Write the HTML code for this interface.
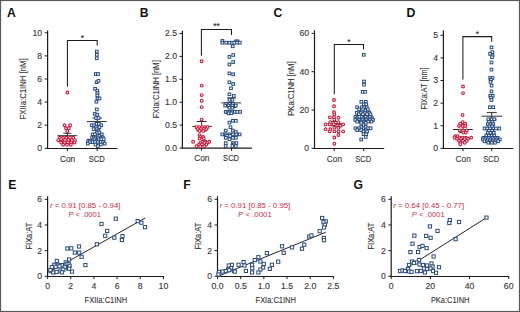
<!DOCTYPE html>
<html><head><meta charset="utf-8"><style>
html,body{margin:0;padding:0;background:#fff;}
body{width:520px;height:312px;overflow:hidden;}
svg{display:block;font-family:"Liberation Sans", sans-serif;}
</style></head><body>
<svg width="520" height="312" viewBox="0 0 520 312">
<rect x="0" y="0" width="520" height="312" fill="#fff"/>
<text x="7" y="16.6" font-size="12.2" text-anchor="start" fill="#111" font-weight="bold">A</text>
<line x1="47.6" y1="30.5" x2="47.6" y2="148.9" stroke="#1c1c1c" stroke-width="1.2"/>
<line x1="44.7" y1="148.3" x2="47.6" y2="148.3" stroke="#1c1c1c" stroke-width="1.0"/>
<text x="42.2" y="151.2" font-size="8.7" text-anchor="end" fill="#363636" stroke="#363636" stroke-width="0.12">0</text>
<line x1="44.7" y1="125.2" x2="47.6" y2="125.2" stroke="#1c1c1c" stroke-width="1.0"/>
<text x="42.2" y="128.1" font-size="8.7" text-anchor="end" fill="#363636" stroke="#363636" stroke-width="0.12">2</text>
<line x1="44.7" y1="102.1" x2="47.6" y2="102.1" stroke="#1c1c1c" stroke-width="1.0"/>
<text x="42.2" y="105" font-size="8.7" text-anchor="end" fill="#363636" stroke="#363636" stroke-width="0.12">4</text>
<line x1="44.7" y1="79" x2="47.6" y2="79" stroke="#1c1c1c" stroke-width="1.0"/>
<text x="42.2" y="81.9" font-size="8.7" text-anchor="end" fill="#363636" stroke="#363636" stroke-width="0.12">6</text>
<line x1="44.7" y1="55.9" x2="47.6" y2="55.9" stroke="#1c1c1c" stroke-width="1.0"/>
<text x="42.2" y="58.8" font-size="8.7" text-anchor="end" fill="#363636" stroke="#363636" stroke-width="0.12">8</text>
<line x1="44.7" y1="32.8" x2="47.6" y2="32.8" stroke="#1c1c1c" stroke-width="1.0"/>
<text x="42.2" y="35.7" font-size="8.7" text-anchor="end" fill="#363636" stroke="#363636" stroke-width="0.12">10</text>
<line x1="47" y1="148.5" x2="117.6" y2="148.5" stroke="#1c1c1c" stroke-width="1.2"/>
<line x1="67.4" y1="148.3" x2="67.4" y2="151.1" stroke="#1c1c1c" stroke-width="1.0"/>
<line x1="97.2" y1="148.3" x2="97.2" y2="151.1" stroke="#1c1c1c" stroke-width="1.0"/>
<text x="60" y="161.7" font-size="8.9" fill="#363636" stroke="#363636" stroke-width="0.12" textLength="15.2" lengthAdjust="spacingAndGlyphs">Con</text>
<text x="88.8" y="161.7" font-size="8.9" fill="#363636" stroke="#363636" stroke-width="0.12" textLength="16" lengthAdjust="spacingAndGlyphs">SCD</text>
<text transform="translate(26.4,119.55) rotate(-90)" font-size="9.0" fill="#363636" stroke="#363636" stroke-width="0.12" textLength="61.3" lengthAdjust="spacingAndGlyphs">FXIIa:C1INH [nM]</text>
<polyline points="67.4,86.8 67.4,40.5 97.2,40.5 97.2,45.6" fill="none" stroke="#1c1c1c" stroke-width="1.05"/>
<text x="82.3" y="41.1" font-size="8.4" text-anchor="middle" fill="#1a1a1a" stroke="#1a1a1a" stroke-width="0.12">*</text>
<line x1="57.4" y1="135.7" x2="77" y2="135.7" stroke="#222" stroke-width="0.95"/>
<line x1="67.4" y1="133.3" x2="67.4" y2="138.3" stroke="#1c1c1c" stroke-width="0.9"/>
<line x1="63.4" y1="133.3" x2="71.4" y2="133.3" stroke="#1c1c1c" stroke-width="0.9"/>
<line x1="63.4" y1="138.3" x2="71.4" y2="138.3" stroke="#1c1c1c" stroke-width="0.9"/>
<line x1="87" y1="121.6" x2="106.6" y2="121.6" stroke="#222" stroke-width="0.95"/>
<line x1="97.2" y1="118.1" x2="97.2" y2="125" stroke="#1c1c1c" stroke-width="0.9"/>
<line x1="92.45" y1="118.1" x2="101.95" y2="118.1" stroke="#1c1c1c" stroke-width="0.9"/>
<line x1="92.45" y1="125" x2="101.95" y2="125" stroke="#1c1c1c" stroke-width="0.9"/>
<circle cx="67.4" cy="92.5" r="1.38" fill="#fff" stroke="#c61c3e" stroke-width="1.1"/>
<circle cx="64.5" cy="125.3" r="1.38" fill="#fff" stroke="#c61c3e" stroke-width="1.1"/>
<circle cx="70.1" cy="125.3" r="1.38" fill="#fff" stroke="#c61c3e" stroke-width="1.1"/>
<circle cx="66" cy="128.3" r="1.38" fill="#fff" stroke="#c61c3e" stroke-width="1.1"/>
<circle cx="68.8" cy="128.3" r="1.38" fill="#fff" stroke="#c61c3e" stroke-width="1.1"/>
<circle cx="67.3" cy="131.2" r="1.38" fill="#fff" stroke="#c61c3e" stroke-width="1.1"/>
<circle cx="59.8" cy="137.8" r="1.38" fill="#fff" stroke="#c61c3e" stroke-width="1.1"/>
<circle cx="63.1" cy="137.8" r="1.38" fill="#fff" stroke="#c61c3e" stroke-width="1.1"/>
<circle cx="66.5" cy="137.8" r="1.38" fill="#fff" stroke="#c61c3e" stroke-width="1.1"/>
<circle cx="69.9" cy="137.8" r="1.38" fill="#fff" stroke="#c61c3e" stroke-width="1.1"/>
<circle cx="73.2" cy="137.8" r="1.38" fill="#fff" stroke="#c61c3e" stroke-width="1.1"/>
<circle cx="58.3" cy="140.2" r="1.38" fill="#fff" stroke="#c61c3e" stroke-width="1.1"/>
<circle cx="61.7" cy="140.2" r="1.38" fill="#fff" stroke="#c61c3e" stroke-width="1.1"/>
<circle cx="65" cy="140.2" r="1.38" fill="#fff" stroke="#c61c3e" stroke-width="1.1"/>
<circle cx="68.4" cy="140.2" r="1.38" fill="#fff" stroke="#c61c3e" stroke-width="1.1"/>
<circle cx="71.8" cy="140.2" r="1.38" fill="#fff" stroke="#c61c3e" stroke-width="1.1"/>
<circle cx="75" cy="140.2" r="1.38" fill="#fff" stroke="#c61c3e" stroke-width="1.1"/>
<circle cx="61.2" cy="142.6" r="1.38" fill="#fff" stroke="#c61c3e" stroke-width="1.1"/>
<circle cx="64.6" cy="142.6" r="1.38" fill="#fff" stroke="#c61c3e" stroke-width="1.1"/>
<circle cx="67.9" cy="142.6" r="1.38" fill="#fff" stroke="#c61c3e" stroke-width="1.1"/>
<circle cx="71.3" cy="142.6" r="1.38" fill="#fff" stroke="#c61c3e" stroke-width="1.1"/>
<circle cx="74.6" cy="142.6" r="1.38" fill="#fff" stroke="#c61c3e" stroke-width="1.1"/>
<circle cx="63.1" cy="144.8" r="1.38" fill="#fff" stroke="#c61c3e" stroke-width="1.1"/>
<circle cx="67" cy="144.8" r="1.38" fill="#fff" stroke="#c61c3e" stroke-width="1.1"/>
<circle cx="70.8" cy="144.8" r="1.38" fill="#fff" stroke="#c61c3e" stroke-width="1.1"/>
<circle cx="61.2" cy="139.2" r="1.38" fill="#fff" stroke="#c61c3e" stroke-width="1.1"/>
<rect x="95.47" y="50.27" width="2.65" height="2.65" fill="#fff" stroke="#26497e" stroke-width="1.0"/>
<rect x="95.47" y="53.47" width="2.65" height="2.65" fill="#fff" stroke="#26497e" stroke-width="1.0"/>
<rect x="95.47" y="56.97" width="2.65" height="2.65" fill="#fff" stroke="#26497e" stroke-width="1.0"/>
<rect x="94.47" y="72.67" width="2.65" height="2.65" fill="#fff" stroke="#26497e" stroke-width="1.0"/>
<rect x="96.67" y="72.67" width="2.65" height="2.65" fill="#fff" stroke="#26497e" stroke-width="1.0"/>
<rect x="95.38" y="80.88" width="2.65" height="2.65" fill="#fff" stroke="#26497e" stroke-width="1.0"/>
<rect x="97.17" y="79.58" width="2.65" height="2.65" fill="#fff" stroke="#26497e" stroke-width="1.0"/>
<rect x="93.77" y="87.47" width="2.65" height="2.65" fill="#fff" stroke="#26497e" stroke-width="1.0"/>
<rect x="95.97" y="89.38" width="2.65" height="2.65" fill="#fff" stroke="#26497e" stroke-width="1.0"/>
<rect x="96.17" y="91.77" width="2.65" height="2.65" fill="#fff" stroke="#26497e" stroke-width="1.0"/>
<rect x="95.97" y="94.17" width="2.65" height="2.65" fill="#fff" stroke="#26497e" stroke-width="1.0"/>
<rect x="96.17" y="97.08" width="2.65" height="2.65" fill="#fff" stroke="#26497e" stroke-width="1.0"/>
<rect x="98.17" y="97.08" width="2.65" height="2.65" fill="#fff" stroke="#26497e" stroke-width="1.0"/>
<rect x="95.08" y="100.38" width="2.65" height="2.65" fill="#fff" stroke="#26497e" stroke-width="1.0"/>
<rect x="95.47" y="108.08" width="2.65" height="2.65" fill="#fff" stroke="#26497e" stroke-width="1.0"/>
<rect x="93.38" y="112.38" width="2.65" height="2.65" fill="#fff" stroke="#26497e" stroke-width="1.0"/>
<rect x="95.97" y="113.38" width="2.65" height="2.65" fill="#fff" stroke="#26497e" stroke-width="1.0"/>
<rect x="94.77" y="116.67" width="2.65" height="2.65" fill="#fff" stroke="#26497e" stroke-width="1.0"/>
<rect x="97.17" y="116.67" width="2.65" height="2.65" fill="#fff" stroke="#26497e" stroke-width="1.0"/>
<rect x="95.17" y="122.47" width="2.65" height="2.65" fill="#fff" stroke="#26497e" stroke-width="1.0"/>
<rect x="97.58" y="122.47" width="2.65" height="2.65" fill="#fff" stroke="#26497e" stroke-width="1.0"/>
<rect x="90.38" y="123.97" width="2.65" height="2.65" fill="#fff" stroke="#26497e" stroke-width="1.0"/>
<rect x="92.77" y="123.97" width="2.65" height="2.65" fill="#fff" stroke="#26497e" stroke-width="1.0"/>
<rect x="99.97" y="123.97" width="2.65" height="2.65" fill="#fff" stroke="#26497e" stroke-width="1.0"/>
<rect x="94.67" y="125.88" width="2.65" height="2.65" fill="#fff" stroke="#26497e" stroke-width="1.0"/>
<rect x="98.08" y="125.88" width="2.65" height="2.65" fill="#fff" stroke="#26497e" stroke-width="1.0"/>
<rect x="92.27" y="127.77" width="2.65" height="2.65" fill="#fff" stroke="#26497e" stroke-width="1.0"/>
<rect x="95.67" y="127.77" width="2.65" height="2.65" fill="#fff" stroke="#26497e" stroke-width="1.0"/>
<rect x="97.08" y="129.28" width="2.65" height="2.65" fill="#fff" stroke="#26497e" stroke-width="1.0"/>
<rect x="95.67" y="131.18" width="2.65" height="2.65" fill="#fff" stroke="#26497e" stroke-width="1.0"/>
<rect x="98.08" y="131.18" width="2.65" height="2.65" fill="#fff" stroke="#26497e" stroke-width="1.0"/>
<rect x="91.38" y="133.08" width="2.65" height="2.65" fill="#fff" stroke="#26497e" stroke-width="1.0"/>
<rect x="93.67" y="133.08" width="2.65" height="2.65" fill="#fff" stroke="#26497e" stroke-width="1.0"/>
<rect x="100.47" y="133.08" width="2.65" height="2.65" fill="#fff" stroke="#26497e" stroke-width="1.0"/>
<rect x="98.08" y="134.58" width="2.65" height="2.65" fill="#fff" stroke="#26497e" stroke-width="1.0"/>
<rect x="90.88" y="136.18" width="2.65" height="2.65" fill="#fff" stroke="#26497e" stroke-width="1.0"/>
<rect x="92.77" y="136.18" width="2.65" height="2.65" fill="#fff" stroke="#26497e" stroke-width="1.0"/>
<rect x="94.67" y="136.18" width="2.65" height="2.65" fill="#fff" stroke="#26497e" stroke-width="1.0"/>
<rect x="96.58" y="136.18" width="2.65" height="2.65" fill="#fff" stroke="#26497e" stroke-width="1.0"/>
<rect x="101.47" y="136.18" width="2.65" height="2.65" fill="#fff" stroke="#26497e" stroke-width="1.0"/>
<rect x="93.27" y="137.88" width="2.65" height="2.65" fill="#fff" stroke="#26497e" stroke-width="1.0"/>
<rect x="97.08" y="137.88" width="2.65" height="2.65" fill="#fff" stroke="#26497e" stroke-width="1.0"/>
<rect x="99.97" y="137.88" width="2.65" height="2.65" fill="#fff" stroke="#26497e" stroke-width="1.0"/>
<rect x="102.38" y="137.88" width="2.65" height="2.65" fill="#fff" stroke="#26497e" stroke-width="1.0"/>
<rect x="86.97" y="139.38" width="2.65" height="2.65" fill="#fff" stroke="#26497e" stroke-width="1.0"/>
<rect x="88.97" y="139.38" width="2.65" height="2.65" fill="#fff" stroke="#26497e" stroke-width="1.0"/>
<rect x="95.17" y="139.38" width="2.65" height="2.65" fill="#fff" stroke="#26497e" stroke-width="1.0"/>
<rect x="88.47" y="140.78" width="2.65" height="2.65" fill="#fff" stroke="#26497e" stroke-width="1.0"/>
<rect x="91.38" y="140.78" width="2.65" height="2.65" fill="#fff" stroke="#26497e" stroke-width="1.0"/>
<rect x="93.67" y="140.78" width="2.65" height="2.65" fill="#fff" stroke="#26497e" stroke-width="1.0"/>
<rect x="96.58" y="140.78" width="2.65" height="2.65" fill="#fff" stroke="#26497e" stroke-width="1.0"/>
<rect x="99.47" y="140.78" width="2.65" height="2.65" fill="#fff" stroke="#26497e" stroke-width="1.0"/>
<rect x="101.88" y="140.78" width="2.65" height="2.65" fill="#fff" stroke="#26497e" stroke-width="1.0"/>
<rect x="86.47" y="142.28" width="2.65" height="2.65" fill="#fff" stroke="#26497e" stroke-width="1.0"/>
<rect x="103.38" y="142.28" width="2.65" height="2.65" fill="#fff" stroke="#26497e" stroke-width="1.0"/>
<rect x="94.17" y="143.18" width="2.65" height="2.65" fill="#fff" stroke="#26497e" stroke-width="1.0"/>
<rect x="97.08" y="143.18" width="2.65" height="2.65" fill="#fff" stroke="#26497e" stroke-width="1.0"/>
<rect x="99.47" y="143.18" width="2.65" height="2.65" fill="#fff" stroke="#26497e" stroke-width="1.0"/>
<rect x="96.58" y="144.68" width="2.65" height="2.65" fill="#fff" stroke="#26497e" stroke-width="1.0"/>
<text x="139.8" y="16.6" font-size="12.2" text-anchor="start" fill="#111" font-weight="bold">B</text>
<line x1="182.4" y1="30.8" x2="182.4" y2="148.6" stroke="#1c1c1c" stroke-width="1.2"/>
<line x1="179.5" y1="148" x2="182.4" y2="148" stroke="#1c1c1c" stroke-width="1.0"/>
<text x="177" y="150.9" font-size="8.7" text-anchor="end" fill="#363636" stroke="#363636" stroke-width="0.12">0.0</text>
<line x1="179.5" y1="125.1" x2="182.4" y2="125.1" stroke="#1c1c1c" stroke-width="1.0"/>
<text x="177" y="128" font-size="8.7" text-anchor="end" fill="#363636" stroke="#363636" stroke-width="0.12">0.5</text>
<line x1="179.5" y1="102.2" x2="182.4" y2="102.2" stroke="#1c1c1c" stroke-width="1.0"/>
<text x="177" y="105.1" font-size="8.7" text-anchor="end" fill="#363636" stroke="#363636" stroke-width="0.12">1.0</text>
<line x1="179.5" y1="79.3" x2="182.4" y2="79.3" stroke="#1c1c1c" stroke-width="1.0"/>
<text x="177" y="82.2" font-size="8.7" text-anchor="end" fill="#363636" stroke="#363636" stroke-width="0.12">1.5</text>
<line x1="179.5" y1="56.4" x2="182.4" y2="56.4" stroke="#1c1c1c" stroke-width="1.0"/>
<text x="177" y="59.3" font-size="8.7" text-anchor="end" fill="#363636" stroke="#363636" stroke-width="0.12">2.0</text>
<line x1="179.5" y1="33.5" x2="182.4" y2="33.5" stroke="#1c1c1c" stroke-width="1.0"/>
<text x="177" y="36.4" font-size="8.7" text-anchor="end" fill="#363636" stroke="#363636" stroke-width="0.12">2.5</text>
<line x1="181.8" y1="148.2" x2="251.9" y2="148.2" stroke="#1c1c1c" stroke-width="1.2"/>
<line x1="201.6" y1="148" x2="201.6" y2="150.8" stroke="#1c1c1c" stroke-width="1.0"/>
<line x1="231.5" y1="148" x2="231.5" y2="150.8" stroke="#1c1c1c" stroke-width="1.0"/>
<text x="194.2" y="161.4" font-size="8.9" fill="#363636" stroke="#363636" stroke-width="0.12" textLength="15.2" lengthAdjust="spacingAndGlyphs">Con</text>
<text x="223.1" y="161.4" font-size="8.9" fill="#363636" stroke="#363636" stroke-width="0.12" textLength="16" lengthAdjust="spacingAndGlyphs">SCD</text>
<text transform="translate(159.4,118.35) rotate(-90)" font-size="9.0" fill="#363636" stroke="#363636" stroke-width="0.12" textLength="58.2" lengthAdjust="spacingAndGlyphs">FXIa:C1INH [nM]</text>
<polyline points="201.4,55.8 201.4,29.5 231.5,29.5 231.5,34.9" fill="none" stroke="#1c1c1c" stroke-width="1.05"/>
<text x="216.45" y="29.3" font-size="8.4" text-anchor="middle" fill="#1a1a1a" stroke="#1a1a1a" stroke-width="0.12">**</text>
<line x1="192.3" y1="126.4" x2="211.8" y2="126.4" stroke="#222" stroke-width="0.95"/>
<line x1="201.6" y1="121.5" x2="201.6" y2="131" stroke="#1c1c1c" stroke-width="0.9"/>
<line x1="196.6" y1="121.5" x2="206.6" y2="121.5" stroke="#1c1c1c" stroke-width="0.9"/>
<line x1="196.6" y1="131" x2="206.6" y2="131" stroke="#1c1c1c" stroke-width="0.9"/>
<line x1="221.4" y1="102.9" x2="241.1" y2="102.9" stroke="#222" stroke-width="0.95"/>
<line x1="231.5" y1="97.9" x2="231.5" y2="107.6" stroke="#1c1c1c" stroke-width="0.9"/>
<line x1="227" y1="97.9" x2="236" y2="97.9" stroke="#1c1c1c" stroke-width="0.9"/>
<line x1="227" y1="107.6" x2="236" y2="107.6" stroke="#1c1c1c" stroke-width="0.9"/>
<circle cx="201.6" cy="61.3" r="1.38" fill="#fff" stroke="#c61c3e" stroke-width="1.1"/>
<circle cx="201.7" cy="85.6" r="1.38" fill="#fff" stroke="#c61c3e" stroke-width="1.1"/>
<circle cx="201.7" cy="95.1" r="1.38" fill="#fff" stroke="#c61c3e" stroke-width="1.1"/>
<circle cx="201.7" cy="100.7" r="1.38" fill="#fff" stroke="#c61c3e" stroke-width="1.1"/>
<circle cx="201.7" cy="107.1" r="1.38" fill="#fff" stroke="#c61c3e" stroke-width="1.1"/>
<circle cx="201.6" cy="119.6" r="1.38" fill="#fff" stroke="#c61c3e" stroke-width="1.1"/>
<circle cx="196.5" cy="127.2" r="1.38" fill="#fff" stroke="#c61c3e" stroke-width="1.1"/>
<circle cx="199" cy="127.2" r="1.38" fill="#fff" stroke="#c61c3e" stroke-width="1.1"/>
<circle cx="202" cy="127.2" r="1.38" fill="#fff" stroke="#c61c3e" stroke-width="1.1"/>
<circle cx="205" cy="127.2" r="1.38" fill="#fff" stroke="#c61c3e" stroke-width="1.1"/>
<circle cx="207.5" cy="127.2" r="1.38" fill="#fff" stroke="#c61c3e" stroke-width="1.1"/>
<circle cx="197.7" cy="129" r="1.38" fill="#fff" stroke="#c61c3e" stroke-width="1.1"/>
<circle cx="200.8" cy="129" r="1.38" fill="#fff" stroke="#c61c3e" stroke-width="1.1"/>
<circle cx="203.8" cy="129" r="1.38" fill="#fff" stroke="#c61c3e" stroke-width="1.1"/>
<circle cx="206.3" cy="129" r="1.38" fill="#fff" stroke="#c61c3e" stroke-width="1.1"/>
<circle cx="199.6" cy="130.9" r="1.38" fill="#fff" stroke="#c61c3e" stroke-width="1.1"/>
<circle cx="203.2" cy="130.9" r="1.38" fill="#fff" stroke="#c61c3e" stroke-width="1.1"/>
<circle cx="199.6" cy="135.1" r="1.38" fill="#fff" stroke="#c61c3e" stroke-width="1.1"/>
<circle cx="200.2" cy="137" r="1.38" fill="#fff" stroke="#c61c3e" stroke-width="1.1"/>
<circle cx="203.2" cy="137" r="1.38" fill="#fff" stroke="#c61c3e" stroke-width="1.1"/>
<circle cx="199.6" cy="138.6" r="1.38" fill="#fff" stroke="#c61c3e" stroke-width="1.1"/>
<circle cx="203.8" cy="138.6" r="1.38" fill="#fff" stroke="#c61c3e" stroke-width="1.1"/>
<circle cx="193.1" cy="141.8" r="1.38" fill="#fff" stroke="#c61c3e" stroke-width="1.1"/>
<circle cx="202.6" cy="141.8" r="1.38" fill="#fff" stroke="#c61c3e" stroke-width="1.1"/>
<circle cx="205.7" cy="141.8" r="1.38" fill="#fff" stroke="#c61c3e" stroke-width="1.1"/>
<circle cx="209.3" cy="141.8" r="1.38" fill="#fff" stroke="#c61c3e" stroke-width="1.1"/>
<circle cx="200.2" cy="143" r="1.38" fill="#fff" stroke="#c61c3e" stroke-width="1.1"/>
<circle cx="204.4" cy="143" r="1.38" fill="#fff" stroke="#c61c3e" stroke-width="1.1"/>
<circle cx="207.2" cy="143" r="1.38" fill="#fff" stroke="#c61c3e" stroke-width="1.1"/>
<circle cx="199" cy="144.6" r="1.38" fill="#fff" stroke="#c61c3e" stroke-width="1.1"/>
<circle cx="202" cy="144.6" r="1.38" fill="#fff" stroke="#c61c3e" stroke-width="1.1"/>
<circle cx="206.3" cy="144.6" r="1.38" fill="#fff" stroke="#c61c3e" stroke-width="1.1"/>
<circle cx="196.5" cy="146.3" r="1.38" fill="#fff" stroke="#c61c3e" stroke-width="1.1"/>
<circle cx="200.2" cy="146.3" r="1.38" fill="#fff" stroke="#c61c3e" stroke-width="1.1"/>
<circle cx="204.4" cy="146.3" r="1.38" fill="#fff" stroke="#c61c3e" stroke-width="1.1"/>
<rect x="221.08" y="39.57" width="2.65" height="2.65" fill="#fff" stroke="#26497e" stroke-width="1.0"/>
<rect x="234.68" y="40.07" width="2.65" height="2.65" fill="#fff" stroke="#26497e" stroke-width="1.0"/>
<rect x="236.28" y="40.07" width="2.65" height="2.65" fill="#fff" stroke="#26497e" stroke-width="1.0"/>
<rect x="221.08" y="41.38" width="2.65" height="2.65" fill="#fff" stroke="#26497e" stroke-width="1.0"/>
<rect x="224.88" y="41.38" width="2.65" height="2.65" fill="#fff" stroke="#26497e" stroke-width="1.0"/>
<rect x="228.08" y="41.38" width="2.65" height="2.65" fill="#fff" stroke="#26497e" stroke-width="1.0"/>
<rect x="230.78" y="41.38" width="2.65" height="2.65" fill="#fff" stroke="#26497e" stroke-width="1.0"/>
<rect x="232.98" y="41.38" width="2.65" height="2.65" fill="#fff" stroke="#26497e" stroke-width="1.0"/>
<rect x="235.68" y="41.38" width="2.65" height="2.65" fill="#fff" stroke="#26497e" stroke-width="1.0"/>
<rect x="238.48" y="41.38" width="2.65" height="2.65" fill="#fff" stroke="#26497e" stroke-width="1.0"/>
<rect x="231.38" y="44.97" width="2.65" height="2.65" fill="#fff" stroke="#26497e" stroke-width="1.0"/>
<rect x="231.88" y="53.67" width="2.65" height="2.65" fill="#fff" stroke="#26497e" stroke-width="1.0"/>
<rect x="228.08" y="55.57" width="2.65" height="2.65" fill="#fff" stroke="#26497e" stroke-width="1.0"/>
<rect x="231.88" y="60.77" width="2.65" height="2.65" fill="#fff" stroke="#26497e" stroke-width="1.0"/>
<rect x="228.08" y="63.17" width="2.65" height="2.65" fill="#fff" stroke="#26497e" stroke-width="1.0"/>
<rect x="228.08" y="72.08" width="2.65" height="2.65" fill="#fff" stroke="#26497e" stroke-width="1.0"/>
<rect x="231.88" y="72.97" width="2.65" height="2.65" fill="#fff" stroke="#26497e" stroke-width="1.0"/>
<rect x="228.08" y="80.97" width="2.65" height="2.65" fill="#fff" stroke="#26497e" stroke-width="1.0"/>
<rect x="231.88" y="82.67" width="2.65" height="2.65" fill="#fff" stroke="#26497e" stroke-width="1.0"/>
<rect x="229.68" y="86.97" width="2.65" height="2.65" fill="#fff" stroke="#26497e" stroke-width="1.0"/>
<rect x="228.08" y="92.97" width="2.65" height="2.65" fill="#fff" stroke="#26497e" stroke-width="1.0"/>
<rect x="232.48" y="94.58" width="2.65" height="2.65" fill="#fff" stroke="#26497e" stroke-width="1.0"/>
<rect x="228.18" y="98.47" width="2.65" height="2.65" fill="#fff" stroke="#26497e" stroke-width="1.0"/>
<rect x="231.08" y="98.47" width="2.65" height="2.65" fill="#fff" stroke="#26497e" stroke-width="1.0"/>
<rect x="224.88" y="102.58" width="2.65" height="2.65" fill="#fff" stroke="#26497e" stroke-width="1.0"/>
<rect x="228.18" y="102.58" width="2.65" height="2.65" fill="#fff" stroke="#26497e" stroke-width="1.0"/>
<rect x="231.58" y="102.58" width="2.65" height="2.65" fill="#fff" stroke="#26497e" stroke-width="1.0"/>
<rect x="223.88" y="104.27" width="2.65" height="2.65" fill="#fff" stroke="#26497e" stroke-width="1.0"/>
<rect x="227.28" y="104.27" width="2.65" height="2.65" fill="#fff" stroke="#26497e" stroke-width="1.0"/>
<rect x="231.08" y="104.27" width="2.65" height="2.65" fill="#fff" stroke="#26497e" stroke-width="1.0"/>
<rect x="234.48" y="104.27" width="2.65" height="2.65" fill="#fff" stroke="#26497e" stroke-width="1.0"/>
<rect x="228.18" y="106.38" width="2.65" height="2.65" fill="#fff" stroke="#26497e" stroke-width="1.0"/>
<rect x="231.08" y="106.38" width="2.65" height="2.65" fill="#fff" stroke="#26497e" stroke-width="1.0"/>
<rect x="224.38" y="110.58" width="2.65" height="2.65" fill="#fff" stroke="#26497e" stroke-width="1.0"/>
<rect x="226.28" y="110.58" width="2.65" height="2.65" fill="#fff" stroke="#26497e" stroke-width="1.0"/>
<rect x="228.18" y="110.58" width="2.65" height="2.65" fill="#fff" stroke="#26497e" stroke-width="1.0"/>
<rect x="231.08" y="110.58" width="2.65" height="2.65" fill="#fff" stroke="#26497e" stroke-width="1.0"/>
<rect x="233.48" y="110.58" width="2.65" height="2.65" fill="#fff" stroke="#26497e" stroke-width="1.0"/>
<rect x="235.88" y="110.58" width="2.65" height="2.65" fill="#fff" stroke="#26497e" stroke-width="1.0"/>
<rect x="238.78" y="110.58" width="2.65" height="2.65" fill="#fff" stroke="#26497e" stroke-width="1.0"/>
<rect x="227.28" y="111.97" width="2.65" height="2.65" fill="#fff" stroke="#26497e" stroke-width="1.0"/>
<rect x="230.18" y="111.97" width="2.65" height="2.65" fill="#fff" stroke="#26497e" stroke-width="1.0"/>
<rect x="231.58" y="119.47" width="2.65" height="2.65" fill="#fff" stroke="#26497e" stroke-width="1.0"/>
<rect x="234.48" y="119.47" width="2.65" height="2.65" fill="#fff" stroke="#26497e" stroke-width="1.0"/>
<rect x="228.18" y="121.27" width="2.65" height="2.65" fill="#fff" stroke="#26497e" stroke-width="1.0"/>
<rect x="229.18" y="125.88" width="2.65" height="2.65" fill="#fff" stroke="#26497e" stroke-width="1.0"/>
<rect x="224.38" y="129.28" width="2.65" height="2.65" fill="#fff" stroke="#26497e" stroke-width="1.0"/>
<rect x="231.58" y="129.28" width="2.65" height="2.65" fill="#fff" stroke="#26497e" stroke-width="1.0"/>
<rect x="234.48" y="130.68" width="2.65" height="2.65" fill="#fff" stroke="#26497e" stroke-width="1.0"/>
<rect x="220.98" y="133.08" width="2.65" height="2.65" fill="#fff" stroke="#26497e" stroke-width="1.0"/>
<rect x="224.38" y="133.08" width="2.65" height="2.65" fill="#fff" stroke="#26497e" stroke-width="1.0"/>
<rect x="228.18" y="133.08" width="2.65" height="2.65" fill="#fff" stroke="#26497e" stroke-width="1.0"/>
<rect x="231.58" y="133.08" width="2.65" height="2.65" fill="#fff" stroke="#26497e" stroke-width="1.0"/>
<rect x="234.98" y="133.08" width="2.65" height="2.65" fill="#fff" stroke="#26497e" stroke-width="1.0"/>
<rect x="238.28" y="133.08" width="2.65" height="2.65" fill="#fff" stroke="#26497e" stroke-width="1.0"/>
<rect x="225.78" y="134.58" width="2.65" height="2.65" fill="#fff" stroke="#26497e" stroke-width="1.0"/>
<rect x="228.68" y="134.58" width="2.65" height="2.65" fill="#fff" stroke="#26497e" stroke-width="1.0"/>
<rect x="224.38" y="136.48" width="2.65" height="2.65" fill="#fff" stroke="#26497e" stroke-width="1.0"/>
<rect x="231.58" y="136.48" width="2.65" height="2.65" fill="#fff" stroke="#26497e" stroke-width="1.0"/>
<rect x="234.48" y="136.48" width="2.65" height="2.65" fill="#fff" stroke="#26497e" stroke-width="1.0"/>
<rect x="228.18" y="137.88" width="2.65" height="2.65" fill="#fff" stroke="#26497e" stroke-width="1.0"/>
<rect x="224.38" y="141.78" width="2.65" height="2.65" fill="#fff" stroke="#26497e" stroke-width="1.0"/>
<rect x="231.58" y="141.78" width="2.65" height="2.65" fill="#fff" stroke="#26497e" stroke-width="1.0"/>
<rect x="234.98" y="141.78" width="2.65" height="2.65" fill="#fff" stroke="#26497e" stroke-width="1.0"/>
<rect x="232.58" y="143.18" width="2.65" height="2.65" fill="#fff" stroke="#26497e" stroke-width="1.0"/>
<rect x="224.38" y="144.68" width="2.65" height="2.65" fill="#fff" stroke="#26497e" stroke-width="1.0"/>
<rect x="231.08" y="144.68" width="2.65" height="2.65" fill="#fff" stroke="#26497e" stroke-width="1.0"/>
<rect x="234.48" y="144.68" width="2.65" height="2.65" fill="#fff" stroke="#26497e" stroke-width="1.0"/>
<text x="273.5" y="16.6" font-size="12.2" text-anchor="start" fill="#111" font-weight="bold">C</text>
<line x1="314.5" y1="30.3" x2="314.5" y2="148.9" stroke="#1c1c1c" stroke-width="1.2"/>
<line x1="311.6" y1="148.3" x2="314.5" y2="148.3" stroke="#1c1c1c" stroke-width="1.0"/>
<text x="309.1" y="151.2" font-size="8.7" text-anchor="end" fill="#363636" stroke="#363636" stroke-width="0.12">0</text>
<line x1="311.6" y1="110" x2="314.5" y2="110" stroke="#1c1c1c" stroke-width="1.0"/>
<text x="309.1" y="112.9" font-size="8.7" text-anchor="end" fill="#363636" stroke="#363636" stroke-width="0.12">20</text>
<line x1="311.6" y1="71.7" x2="314.5" y2="71.7" stroke="#1c1c1c" stroke-width="1.0"/>
<text x="309.1" y="74.6" font-size="8.7" text-anchor="end" fill="#363636" stroke="#363636" stroke-width="0.12">40</text>
<line x1="311.6" y1="33.4" x2="314.5" y2="33.4" stroke="#1c1c1c" stroke-width="1.0"/>
<text x="309.1" y="36.3" font-size="8.7" text-anchor="end" fill="#363636" stroke="#363636" stroke-width="0.12">60</text>
<line x1="313.9" y1="148.5" x2="384.2" y2="148.5" stroke="#1c1c1c" stroke-width="1.2"/>
<line x1="334.2" y1="148.3" x2="334.2" y2="151.1" stroke="#1c1c1c" stroke-width="1.0"/>
<line x1="363.7" y1="148.3" x2="363.7" y2="151.1" stroke="#1c1c1c" stroke-width="1.0"/>
<text x="326.8" y="161.7" font-size="8.9" fill="#363636" stroke="#363636" stroke-width="0.12" textLength="15.2" lengthAdjust="spacingAndGlyphs">Con</text>
<text x="355.3" y="161.7" font-size="8.9" fill="#363636" stroke="#363636" stroke-width="0.12" textLength="16" lengthAdjust="spacingAndGlyphs">SCD</text>
<text transform="translate(294,115.75) rotate(-90)" font-size="9.0" fill="#363636" stroke="#363636" stroke-width="0.12" textLength="54.3" lengthAdjust="spacingAndGlyphs">PKa:C1NH [nM]</text>
<polyline points="334.3,94.2 334.3,44.5 363.5,44.5 363.5,49.5" fill="none" stroke="#1c1c1c" stroke-width="1.05"/>
<text x="348.9" y="45.1" font-size="8.4" text-anchor="middle" fill="#1a1a1a" stroke="#1a1a1a" stroke-width="0.12">*</text>
<line x1="327.6" y1="123.6" x2="341.7" y2="123.6" stroke="#222" stroke-width="0.95"/>
<line x1="334.2" y1="121.4" x2="334.2" y2="125.8" stroke="#1c1c1c" stroke-width="0.9"/>
<line x1="330.7" y1="121.4" x2="337.7" y2="121.4" stroke="#1c1c1c" stroke-width="0.9"/>
<line x1="330.7" y1="125.8" x2="337.7" y2="125.8" stroke="#1c1c1c" stroke-width="0.9"/>
<line x1="354" y1="116" x2="373" y2="116" stroke="#222" stroke-width="0.95"/>
<line x1="363.7" y1="114.2" x2="363.7" y2="117.8" stroke="#1c1c1c" stroke-width="0.9"/>
<line x1="359.7" y1="114.2" x2="367.7" y2="114.2" stroke="#1c1c1c" stroke-width="0.9"/>
<line x1="359.7" y1="117.8" x2="367.7" y2="117.8" stroke="#1c1c1c" stroke-width="0.9"/>
<circle cx="334" cy="100" r="1.38" fill="#fff" stroke="#c61c3e" stroke-width="1.1"/>
<circle cx="334" cy="106.3" r="1.38" fill="#fff" stroke="#c61c3e" stroke-width="1.1"/>
<circle cx="334" cy="112.3" r="1.38" fill="#fff" stroke="#c61c3e" stroke-width="1.1"/>
<circle cx="334.3" cy="114.4" r="1.38" fill="#fff" stroke="#c61c3e" stroke-width="1.1"/>
<circle cx="329.9" cy="117.4" r="1.38" fill="#fff" stroke="#c61c3e" stroke-width="1.1"/>
<circle cx="334" cy="117.4" r="1.38" fill="#fff" stroke="#c61c3e" stroke-width="1.1"/>
<circle cx="338.5" cy="117.8" r="1.38" fill="#fff" stroke="#c61c3e" stroke-width="1.1"/>
<circle cx="334.4" cy="119.6" r="1.38" fill="#fff" stroke="#c61c3e" stroke-width="1.1"/>
<circle cx="330.3" cy="122.2" r="1.38" fill="#fff" stroke="#c61c3e" stroke-width="1.1"/>
<circle cx="338.5" cy="122.2" r="1.38" fill="#fff" stroke="#c61c3e" stroke-width="1.1"/>
<circle cx="325.6" cy="124.4" r="1.38" fill="#fff" stroke="#c61c3e" stroke-width="1.1"/>
<circle cx="329.7" cy="124.4" r="1.38" fill="#fff" stroke="#c61c3e" stroke-width="1.1"/>
<circle cx="333.8" cy="124.4" r="1.38" fill="#fff" stroke="#c61c3e" stroke-width="1.1"/>
<circle cx="343.1" cy="124.4" r="1.38" fill="#fff" stroke="#c61c3e" stroke-width="1.1"/>
<circle cx="337.4" cy="125.7" r="1.38" fill="#fff" stroke="#c61c3e" stroke-width="1.1"/>
<circle cx="340.5" cy="125.7" r="1.38" fill="#fff" stroke="#c61c3e" stroke-width="1.1"/>
<circle cx="334.4" cy="127.8" r="1.38" fill="#fff" stroke="#c61c3e" stroke-width="1.1"/>
<circle cx="338.5" cy="127.8" r="1.38" fill="#fff" stroke="#c61c3e" stroke-width="1.1"/>
<circle cx="325.6" cy="129.3" r="1.38" fill="#fff" stroke="#c61c3e" stroke-width="1.1"/>
<circle cx="330.3" cy="129.3" r="1.38" fill="#fff" stroke="#c61c3e" stroke-width="1.1"/>
<circle cx="329.7" cy="131.4" r="1.38" fill="#fff" stroke="#c61c3e" stroke-width="1.1"/>
<circle cx="334.4" cy="131.4" r="1.38" fill="#fff" stroke="#c61c3e" stroke-width="1.1"/>
<circle cx="338.5" cy="131.4" r="1.38" fill="#fff" stroke="#c61c3e" stroke-width="1.1"/>
<circle cx="343.1" cy="131.4" r="1.38" fill="#fff" stroke="#c61c3e" stroke-width="1.1"/>
<circle cx="338.5" cy="135" r="1.38" fill="#fff" stroke="#c61c3e" stroke-width="1.1"/>
<circle cx="334.4" cy="137.5" r="1.38" fill="#fff" stroke="#c61c3e" stroke-width="1.1"/>
<circle cx="334.4" cy="143.7" r="1.38" fill="#fff" stroke="#c61c3e" stroke-width="1.1"/>
<rect x="362.48" y="53.47" width="2.65" height="2.65" fill="#fff" stroke="#26497e" stroke-width="1.0"/>
<rect x="362.68" y="80.17" width="2.65" height="2.65" fill="#fff" stroke="#26497e" stroke-width="1.0"/>
<rect x="362.68" y="83.27" width="2.65" height="2.65" fill="#fff" stroke="#26497e" stroke-width="1.0"/>
<rect x="361.28" y="90.47" width="2.65" height="2.65" fill="#fff" stroke="#26497e" stroke-width="1.0"/>
<rect x="363.68" y="90.47" width="2.65" height="2.65" fill="#fff" stroke="#26497e" stroke-width="1.0"/>
<rect x="359.98" y="100.47" width="2.65" height="2.65" fill="#fff" stroke="#26497e" stroke-width="1.0"/>
<rect x="364.48" y="100.47" width="2.65" height="2.65" fill="#fff" stroke="#26497e" stroke-width="1.0"/>
<rect x="362.48" y="102.97" width="2.65" height="2.65" fill="#fff" stroke="#26497e" stroke-width="1.0"/>
<rect x="364.98" y="102.97" width="2.65" height="2.65" fill="#fff" stroke="#26497e" stroke-width="1.0"/>
<rect x="355.78" y="105.97" width="2.65" height="2.65" fill="#fff" stroke="#26497e" stroke-width="1.0"/>
<rect x="360.38" y="105.97" width="2.65" height="2.65" fill="#fff" stroke="#26497e" stroke-width="1.0"/>
<rect x="362.88" y="105.97" width="2.65" height="2.65" fill="#fff" stroke="#26497e" stroke-width="1.0"/>
<rect x="365.38" y="105.97" width="2.65" height="2.65" fill="#fff" stroke="#26497e" stroke-width="1.0"/>
<rect x="357.88" y="107.97" width="2.65" height="2.65" fill="#fff" stroke="#26497e" stroke-width="1.0"/>
<rect x="361.98" y="107.97" width="2.65" height="2.65" fill="#fff" stroke="#26497e" stroke-width="1.0"/>
<rect x="366.57" y="107.97" width="2.65" height="2.65" fill="#fff" stroke="#26497e" stroke-width="1.0"/>
<rect x="364.07" y="109.27" width="2.65" height="2.65" fill="#fff" stroke="#26497e" stroke-width="1.0"/>
<rect x="355.38" y="111.38" width="2.65" height="2.65" fill="#fff" stroke="#26497e" stroke-width="1.0"/>
<rect x="359.48" y="111.38" width="2.65" height="2.65" fill="#fff" stroke="#26497e" stroke-width="1.0"/>
<rect x="363.68" y="111.38" width="2.65" height="2.65" fill="#fff" stroke="#26497e" stroke-width="1.0"/>
<rect x="367.88" y="111.38" width="2.65" height="2.65" fill="#fff" stroke="#26497e" stroke-width="1.0"/>
<rect x="357.48" y="112.97" width="2.65" height="2.65" fill="#fff" stroke="#26497e" stroke-width="1.0"/>
<rect x="361.57" y="112.97" width="2.65" height="2.65" fill="#fff" stroke="#26497e" stroke-width="1.0"/>
<rect x="365.78" y="112.97" width="2.65" height="2.65" fill="#fff" stroke="#26497e" stroke-width="1.0"/>
<rect x="369.07" y="112.97" width="2.65" height="2.65" fill="#fff" stroke="#26497e" stroke-width="1.0"/>
<rect x="354.07" y="115.47" width="2.65" height="2.65" fill="#fff" stroke="#26497e" stroke-width="1.0"/>
<rect x="357.88" y="115.47" width="2.65" height="2.65" fill="#fff" stroke="#26497e" stroke-width="1.0"/>
<rect x="360.38" y="115.47" width="2.65" height="2.65" fill="#fff" stroke="#26497e" stroke-width="1.0"/>
<rect x="364.48" y="115.47" width="2.65" height="2.65" fill="#fff" stroke="#26497e" stroke-width="1.0"/>
<rect x="368.68" y="115.47" width="2.65" height="2.65" fill="#fff" stroke="#26497e" stroke-width="1.0"/>
<rect x="355.38" y="117.17" width="2.65" height="2.65" fill="#fff" stroke="#26497e" stroke-width="1.0"/>
<rect x="361.98" y="117.17" width="2.65" height="2.65" fill="#fff" stroke="#26497e" stroke-width="1.0"/>
<rect x="366.18" y="117.17" width="2.65" height="2.65" fill="#fff" stroke="#26497e" stroke-width="1.0"/>
<rect x="370.78" y="117.17" width="2.65" height="2.65" fill="#fff" stroke="#26497e" stroke-width="1.0"/>
<rect x="353.88" y="118.67" width="2.65" height="2.65" fill="#fff" stroke="#26497e" stroke-width="1.0"/>
<rect x="357.57" y="118.67" width="2.65" height="2.65" fill="#fff" stroke="#26497e" stroke-width="1.0"/>
<rect x="361.28" y="118.67" width="2.65" height="2.65" fill="#fff" stroke="#26497e" stroke-width="1.0"/>
<rect x="364.88" y="118.67" width="2.65" height="2.65" fill="#fff" stroke="#26497e" stroke-width="1.0"/>
<rect x="368.48" y="118.67" width="2.65" height="2.65" fill="#fff" stroke="#26497e" stroke-width="1.0"/>
<rect x="371.57" y="118.67" width="2.65" height="2.65" fill="#fff" stroke="#26497e" stroke-width="1.0"/>
<rect x="355.88" y="120.27" width="2.65" height="2.65" fill="#fff" stroke="#26497e" stroke-width="1.0"/>
<rect x="359.48" y="120.27" width="2.65" height="2.65" fill="#fff" stroke="#26497e" stroke-width="1.0"/>
<rect x="363.07" y="120.27" width="2.65" height="2.65" fill="#fff" stroke="#26497e" stroke-width="1.0"/>
<rect x="366.68" y="120.27" width="2.65" height="2.65" fill="#fff" stroke="#26497e" stroke-width="1.0"/>
<rect x="370.18" y="120.27" width="2.65" height="2.65" fill="#fff" stroke="#26497e" stroke-width="1.0"/>
<rect x="359.88" y="121.58" width="2.65" height="2.65" fill="#fff" stroke="#26497e" stroke-width="1.0"/>
<rect x="364.38" y="121.58" width="2.65" height="2.65" fill="#fff" stroke="#26497e" stroke-width="1.0"/>
<rect x="362.18" y="123.88" width="2.65" height="2.65" fill="#fff" stroke="#26497e" stroke-width="1.0"/>
<rect x="359.88" y="125.67" width="2.65" height="2.65" fill="#fff" stroke="#26497e" stroke-width="1.0"/>
<rect x="364.38" y="125.67" width="2.65" height="2.65" fill="#fff" stroke="#26497e" stroke-width="1.0"/>
<rect x="354.07" y="126.98" width="2.65" height="2.65" fill="#fff" stroke="#26497e" stroke-width="1.0"/>
<rect x="357.68" y="126.98" width="2.65" height="2.65" fill="#fff" stroke="#26497e" stroke-width="1.0"/>
<rect x="362.18" y="126.98" width="2.65" height="2.65" fill="#fff" stroke="#26497e" stroke-width="1.0"/>
<rect x="366.68" y="126.98" width="2.65" height="2.65" fill="#fff" stroke="#26497e" stroke-width="1.0"/>
<rect x="369.28" y="126.98" width="2.65" height="2.65" fill="#fff" stroke="#26497e" stroke-width="1.0"/>
<rect x="355.88" y="128.78" width="2.65" height="2.65" fill="#fff" stroke="#26497e" stroke-width="1.0"/>
<rect x="359.88" y="128.78" width="2.65" height="2.65" fill="#fff" stroke="#26497e" stroke-width="1.0"/>
<rect x="364.38" y="128.78" width="2.65" height="2.65" fill="#fff" stroke="#26497e" stroke-width="1.0"/>
<rect x="362.18" y="130.18" width="2.65" height="2.65" fill="#fff" stroke="#26497e" stroke-width="1.0"/>
<rect x="365.68" y="130.18" width="2.65" height="2.65" fill="#fff" stroke="#26497e" stroke-width="1.0"/>
<rect x="362.18" y="132.88" width="2.65" height="2.65" fill="#fff" stroke="#26497e" stroke-width="1.0"/>
<rect x="364.88" y="132.88" width="2.65" height="2.65" fill="#fff" stroke="#26497e" stroke-width="1.0"/>
<rect x="364.38" y="135.58" width="2.65" height="2.65" fill="#fff" stroke="#26497e" stroke-width="1.0"/>
<rect x="359.88" y="138.18" width="2.65" height="2.65" fill="#fff" stroke="#26497e" stroke-width="1.0"/>
<text x="406.5" y="16.6" font-size="12.2" text-anchor="start" fill="#111" font-weight="bold">D</text>
<line x1="443.4" y1="30.5" x2="443.4" y2="148.9" stroke="#1c1c1c" stroke-width="1.2"/>
<line x1="440.5" y1="148.3" x2="443.4" y2="148.3" stroke="#1c1c1c" stroke-width="1.0"/>
<text x="438" y="151.2" font-size="8.7" text-anchor="end" fill="#363636" stroke="#363636" stroke-width="0.12">0</text>
<line x1="440.5" y1="125.7" x2="443.4" y2="125.7" stroke="#1c1c1c" stroke-width="1.0"/>
<text x="438" y="128.6" font-size="8.7" text-anchor="end" fill="#363636" stroke="#363636" stroke-width="0.12">1</text>
<line x1="440.5" y1="103.1" x2="443.4" y2="103.1" stroke="#1c1c1c" stroke-width="1.0"/>
<text x="438" y="106" font-size="8.7" text-anchor="end" fill="#363636" stroke="#363636" stroke-width="0.12">2</text>
<line x1="440.5" y1="80.5" x2="443.4" y2="80.5" stroke="#1c1c1c" stroke-width="1.0"/>
<text x="438" y="83.4" font-size="8.7" text-anchor="end" fill="#363636" stroke="#363636" stroke-width="0.12">3</text>
<line x1="440.5" y1="57.9" x2="443.4" y2="57.9" stroke="#1c1c1c" stroke-width="1.0"/>
<text x="438" y="60.8" font-size="8.7" text-anchor="end" fill="#363636" stroke="#363636" stroke-width="0.12">4</text>
<line x1="440.5" y1="35.3" x2="443.4" y2="35.3" stroke="#1c1c1c" stroke-width="1.0"/>
<text x="438" y="38.2" font-size="8.7" text-anchor="end" fill="#363636" stroke="#363636" stroke-width="0.12">5</text>
<line x1="442.8" y1="148.5" x2="513.2" y2="148.5" stroke="#1c1c1c" stroke-width="1.2"/>
<line x1="463" y1="148.3" x2="463" y2="151.1" stroke="#1c1c1c" stroke-width="1.0"/>
<line x1="491.7" y1="148.3" x2="491.7" y2="151.1" stroke="#1c1c1c" stroke-width="1.0"/>
<text x="455.6" y="161.7" font-size="8.9" fill="#363636" stroke="#363636" stroke-width="0.12" textLength="15.2" lengthAdjust="spacingAndGlyphs">Con</text>
<text x="483.3" y="161.7" font-size="8.9" fill="#363636" stroke="#363636" stroke-width="0.12" textLength="16" lengthAdjust="spacingAndGlyphs">SCD</text>
<text transform="translate(427.3,109.45) rotate(-90)" font-size="9.0" fill="#363636" stroke="#363636" stroke-width="0.12" textLength="42" lengthAdjust="spacingAndGlyphs">FIXa:AT [nm]</text>
<polyline points="462.9,79.4 462.9,36.6 491.7,36.6 491.7,41.8" fill="none" stroke="#1c1c1c" stroke-width="1.05"/>
<text x="477.3" y="37.2" font-size="8.4" text-anchor="middle" fill="#1a1a1a" stroke="#1a1a1a" stroke-width="0.12">*</text>
<line x1="452.8" y1="129.5" x2="472.8" y2="129.5" stroke="#222" stroke-width="0.95"/>
<line x1="463" y1="126.3" x2="463" y2="132.7" stroke="#1c1c1c" stroke-width="0.9"/>
<line x1="459" y1="126.3" x2="467" y2="126.3" stroke="#1c1c1c" stroke-width="0.9"/>
<line x1="459" y1="132.7" x2="467" y2="132.7" stroke="#1c1c1c" stroke-width="0.9"/>
<line x1="481.6" y1="116.2" x2="502.2" y2="116.2" stroke="#222" stroke-width="0.95"/>
<line x1="491.7" y1="112.6" x2="491.7" y2="119.8" stroke="#1c1c1c" stroke-width="0.9"/>
<line x1="486.7" y1="112.6" x2="496.7" y2="112.6" stroke="#1c1c1c" stroke-width="0.9"/>
<line x1="486.7" y1="119.8" x2="496.7" y2="119.8" stroke="#1c1c1c" stroke-width="0.9"/>
<circle cx="463" cy="86.5" r="1.38" fill="#fff" stroke="#c61c3e" stroke-width="1.1"/>
<circle cx="463" cy="93.1" r="1.38" fill="#fff" stroke="#c61c3e" stroke-width="1.1"/>
<circle cx="462.6" cy="114.9" r="1.38" fill="#fff" stroke="#c61c3e" stroke-width="1.1"/>
<circle cx="462.6" cy="122.2" r="1.38" fill="#fff" stroke="#c61c3e" stroke-width="1.1"/>
<circle cx="460.3" cy="123.8" r="1.38" fill="#fff" stroke="#c61c3e" stroke-width="1.1"/>
<circle cx="465.1" cy="123.8" r="1.38" fill="#fff" stroke="#c61c3e" stroke-width="1.1"/>
<circle cx="459" cy="126" r="1.38" fill="#fff" stroke="#c61c3e" stroke-width="1.1"/>
<circle cx="462.8" cy="126" r="1.38" fill="#fff" stroke="#c61c3e" stroke-width="1.1"/>
<circle cx="465.4" cy="126" r="1.38" fill="#fff" stroke="#c61c3e" stroke-width="1.1"/>
<circle cx="459.6" cy="130.5" r="1.38" fill="#fff" stroke="#c61c3e" stroke-width="1.1"/>
<circle cx="462.8" cy="130.5" r="1.38" fill="#fff" stroke="#c61c3e" stroke-width="1.1"/>
<circle cx="466.7" cy="130.5" r="1.38" fill="#fff" stroke="#c61c3e" stroke-width="1.1"/>
<circle cx="463.5" cy="132.6" r="1.38" fill="#fff" stroke="#c61c3e" stroke-width="1.1"/>
<circle cx="465.8" cy="132.6" r="1.38" fill="#fff" stroke="#c61c3e" stroke-width="1.1"/>
<circle cx="455.1" cy="136.3" r="1.38" fill="#fff" stroke="#c61c3e" stroke-width="1.1"/>
<circle cx="457.7" cy="136.3" r="1.38" fill="#fff" stroke="#c61c3e" stroke-width="1.1"/>
<circle cx="454.5" cy="137.6" r="1.38" fill="#fff" stroke="#c61c3e" stroke-width="1.1"/>
<circle cx="459.6" cy="137.6" r="1.38" fill="#fff" stroke="#c61c3e" stroke-width="1.1"/>
<circle cx="462.8" cy="137.6" r="1.38" fill="#fff" stroke="#c61c3e" stroke-width="1.1"/>
<circle cx="466" cy="137.6" r="1.38" fill="#fff" stroke="#c61c3e" stroke-width="1.1"/>
<circle cx="471.2" cy="137.6" r="1.38" fill="#fff" stroke="#c61c3e" stroke-width="1.1"/>
<circle cx="457" cy="138.8" r="1.38" fill="#fff" stroke="#c61c3e" stroke-width="1.1"/>
<circle cx="460.9" cy="138.8" r="1.38" fill="#fff" stroke="#c61c3e" stroke-width="1.1"/>
<circle cx="464.7" cy="138.8" r="1.38" fill="#fff" stroke="#c61c3e" stroke-width="1.1"/>
<circle cx="468" cy="138.8" r="1.38" fill="#fff" stroke="#c61c3e" stroke-width="1.1"/>
<circle cx="459" cy="140.8" r="1.38" fill="#fff" stroke="#c61c3e" stroke-width="1.1"/>
<circle cx="462.8" cy="140.8" r="1.38" fill="#fff" stroke="#c61c3e" stroke-width="1.1"/>
<circle cx="466.7" cy="140.8" r="1.38" fill="#fff" stroke="#c61c3e" stroke-width="1.1"/>
<circle cx="460.3" cy="142.7" r="1.38" fill="#fff" stroke="#c61c3e" stroke-width="1.1"/>
<circle cx="464.7" cy="142.7" r="1.38" fill="#fff" stroke="#c61c3e" stroke-width="1.1"/>
<circle cx="460.3" cy="144.2" r="1.38" fill="#fff" stroke="#c61c3e" stroke-width="1.1"/>
<rect x="490.18" y="46.07" width="2.65" height="2.65" fill="#fff" stroke="#26497e" stroke-width="1.0"/>
<rect x="490.98" y="50.88" width="2.65" height="2.65" fill="#fff" stroke="#26497e" stroke-width="1.0"/>
<rect x="488.78" y="52.57" width="2.65" height="2.65" fill="#fff" stroke="#26497e" stroke-width="1.0"/>
<rect x="491.18" y="53.97" width="2.65" height="2.65" fill="#fff" stroke="#26497e" stroke-width="1.0"/>
<rect x="490.68" y="55.88" width="2.65" height="2.65" fill="#fff" stroke="#26497e" stroke-width="1.0"/>
<rect x="490.18" y="61.17" width="2.65" height="2.65" fill="#fff" stroke="#26497e" stroke-width="1.0"/>
<rect x="490.18" y="68.27" width="2.65" height="2.65" fill="#fff" stroke="#26497e" stroke-width="1.0"/>
<rect x="488.88" y="76.67" width="2.65" height="2.65" fill="#fff" stroke="#26497e" stroke-width="1.0"/>
<rect x="491.07" y="76.67" width="2.65" height="2.65" fill="#fff" stroke="#26497e" stroke-width="1.0"/>
<rect x="489.68" y="78.58" width="2.65" height="2.65" fill="#fff" stroke="#26497e" stroke-width="1.0"/>
<rect x="489.18" y="80.47" width="2.65" height="2.65" fill="#fff" stroke="#26497e" stroke-width="1.0"/>
<rect x="490.18" y="84.27" width="2.65" height="2.65" fill="#fff" stroke="#26497e" stroke-width="1.0"/>
<rect x="490.18" y="90.08" width="2.65" height="2.65" fill="#fff" stroke="#26497e" stroke-width="1.0"/>
<rect x="488.88" y="94.58" width="2.65" height="2.65" fill="#fff" stroke="#26497e" stroke-width="1.0"/>
<rect x="491.38" y="94.58" width="2.65" height="2.65" fill="#fff" stroke="#26497e" stroke-width="1.0"/>
<rect x="489.68" y="96.47" width="2.65" height="2.65" fill="#fff" stroke="#26497e" stroke-width="1.0"/>
<rect x="490.18" y="98.67" width="2.65" height="2.65" fill="#fff" stroke="#26497e" stroke-width="1.0"/>
<rect x="488.57" y="105.88" width="2.65" height="2.65" fill="#fff" stroke="#26497e" stroke-width="1.0"/>
<rect x="491.88" y="105.88" width="2.65" height="2.65" fill="#fff" stroke="#26497e" stroke-width="1.0"/>
<rect x="486.98" y="117.97" width="2.65" height="2.65" fill="#fff" stroke="#26497e" stroke-width="1.0"/>
<rect x="490.28" y="117.97" width="2.65" height="2.65" fill="#fff" stroke="#26497e" stroke-width="1.0"/>
<rect x="492.98" y="117.97" width="2.65" height="2.65" fill="#fff" stroke="#26497e" stroke-width="1.0"/>
<rect x="487.57" y="120.67" width="2.65" height="2.65" fill="#fff" stroke="#26497e" stroke-width="1.0"/>
<rect x="490.88" y="120.67" width="2.65" height="2.65" fill="#fff" stroke="#26497e" stroke-width="1.0"/>
<rect x="486.48" y="122.88" width="2.65" height="2.65" fill="#fff" stroke="#26497e" stroke-width="1.0"/>
<rect x="489.18" y="122.88" width="2.65" height="2.65" fill="#fff" stroke="#26497e" stroke-width="1.0"/>
<rect x="491.98" y="122.88" width="2.65" height="2.65" fill="#fff" stroke="#26497e" stroke-width="1.0"/>
<rect x="488.07" y="124.97" width="2.65" height="2.65" fill="#fff" stroke="#26497e" stroke-width="1.0"/>
<rect x="490.88" y="124.97" width="2.65" height="2.65" fill="#fff" stroke="#26497e" stroke-width="1.0"/>
<rect x="483.18" y="127.17" width="2.65" height="2.65" fill="#fff" stroke="#26497e" stroke-width="1.0"/>
<rect x="485.98" y="127.17" width="2.65" height="2.65" fill="#fff" stroke="#26497e" stroke-width="1.0"/>
<rect x="488.68" y="127.17" width="2.65" height="2.65" fill="#fff" stroke="#26497e" stroke-width="1.0"/>
<rect x="491.98" y="127.17" width="2.65" height="2.65" fill="#fff" stroke="#26497e" stroke-width="1.0"/>
<rect x="494.68" y="127.17" width="2.65" height="2.65" fill="#fff" stroke="#26497e" stroke-width="1.0"/>
<rect x="497.88" y="127.17" width="2.65" height="2.65" fill="#fff" stroke="#26497e" stroke-width="1.0"/>
<rect x="487.57" y="129.38" width="2.65" height="2.65" fill="#fff" stroke="#26497e" stroke-width="1.0"/>
<rect x="490.88" y="129.38" width="2.65" height="2.65" fill="#fff" stroke="#26497e" stroke-width="1.0"/>
<rect x="486.48" y="131.58" width="2.65" height="2.65" fill="#fff" stroke="#26497e" stroke-width="1.0"/>
<rect x="489.18" y="131.58" width="2.65" height="2.65" fill="#fff" stroke="#26497e" stroke-width="1.0"/>
<rect x="492.48" y="131.58" width="2.65" height="2.65" fill="#fff" stroke="#26497e" stroke-width="1.0"/>
<rect x="484.88" y="134.28" width="2.65" height="2.65" fill="#fff" stroke="#26497e" stroke-width="1.0"/>
<rect x="487.57" y="134.28" width="2.65" height="2.65" fill="#fff" stroke="#26497e" stroke-width="1.0"/>
<rect x="490.28" y="134.28" width="2.65" height="2.65" fill="#fff" stroke="#26497e" stroke-width="1.0"/>
<rect x="492.98" y="134.28" width="2.65" height="2.65" fill="#fff" stroke="#26497e" stroke-width="1.0"/>
<rect x="482.07" y="136.48" width="2.65" height="2.65" fill="#fff" stroke="#26497e" stroke-width="1.0"/>
<rect x="484.88" y="136.48" width="2.65" height="2.65" fill="#fff" stroke="#26497e" stroke-width="1.0"/>
<rect x="487.57" y="136.48" width="2.65" height="2.65" fill="#fff" stroke="#26497e" stroke-width="1.0"/>
<rect x="490.88" y="136.48" width="2.65" height="2.65" fill="#fff" stroke="#26497e" stroke-width="1.0"/>
<rect x="493.57" y="136.48" width="2.65" height="2.65" fill="#fff" stroke="#26497e" stroke-width="1.0"/>
<rect x="496.28" y="136.48" width="2.65" height="2.65" fill="#fff" stroke="#26497e" stroke-width="1.0"/>
<rect x="481.57" y="138.08" width="2.65" height="2.65" fill="#fff" stroke="#26497e" stroke-width="1.0"/>
<rect x="483.78" y="138.08" width="2.65" height="2.65" fill="#fff" stroke="#26497e" stroke-width="1.0"/>
<rect x="486.48" y="138.08" width="2.65" height="2.65" fill="#fff" stroke="#26497e" stroke-width="1.0"/>
<rect x="489.18" y="138.08" width="2.65" height="2.65" fill="#fff" stroke="#26497e" stroke-width="1.0"/>
<rect x="491.98" y="138.08" width="2.65" height="2.65" fill="#fff" stroke="#26497e" stroke-width="1.0"/>
<rect x="495.18" y="138.08" width="2.65" height="2.65" fill="#fff" stroke="#26497e" stroke-width="1.0"/>
<rect x="498.48" y="138.08" width="2.65" height="2.65" fill="#fff" stroke="#26497e" stroke-width="1.0"/>
<rect x="483.18" y="139.98" width="2.65" height="2.65" fill="#fff" stroke="#26497e" stroke-width="1.0"/>
<rect x="485.98" y="139.98" width="2.65" height="2.65" fill="#fff" stroke="#26497e" stroke-width="1.0"/>
<rect x="488.68" y="139.98" width="2.65" height="2.65" fill="#fff" stroke="#26497e" stroke-width="1.0"/>
<rect x="491.38" y="139.98" width="2.65" height="2.65" fill="#fff" stroke="#26497e" stroke-width="1.0"/>
<rect x="494.07" y="139.98" width="2.65" height="2.65" fill="#fff" stroke="#26497e" stroke-width="1.0"/>
<rect x="496.88" y="139.98" width="2.65" height="2.65" fill="#fff" stroke="#26497e" stroke-width="1.0"/>
<rect x="486.98" y="141.38" width="2.65" height="2.65" fill="#fff" stroke="#26497e" stroke-width="1.0"/>
<rect x="490.28" y="141.38" width="2.65" height="2.65" fill="#fff" stroke="#26497e" stroke-width="1.0"/>
<rect x="493.57" y="141.38" width="2.65" height="2.65" fill="#fff" stroke="#26497e" stroke-width="1.0"/>
<text x="8.2" y="188.7" font-size="12.2" text-anchor="start" fill="#111" font-weight="bold">E</text>
<line x1="47.6" y1="196.2" x2="47.6" y2="276.9" stroke="#1c1c1c" stroke-width="1.2"/>
<line x1="44.7" y1="276.3" x2="47.6" y2="276.3" stroke="#1c1c1c" stroke-width="1.0"/>
<text x="42.2" y="279.2" font-size="8.7" text-anchor="end" fill="#363636" stroke="#363636" stroke-width="0.12">0</text>
<line x1="44.7" y1="250.64" x2="47.6" y2="250.64" stroke="#1c1c1c" stroke-width="1.0"/>
<text x="42.2" y="253.54" font-size="8.7" text-anchor="end" fill="#363636" stroke="#363636" stroke-width="0.12">2</text>
<line x1="44.7" y1="224.98" x2="47.6" y2="224.98" stroke="#1c1c1c" stroke-width="1.0"/>
<text x="42.2" y="227.88" font-size="8.7" text-anchor="end" fill="#363636" stroke="#363636" stroke-width="0.12">4</text>
<line x1="44.7" y1="199.32" x2="47.6" y2="199.32" stroke="#1c1c1c" stroke-width="1.0"/>
<text x="42.2" y="202.22" font-size="8.7" text-anchor="end" fill="#363636" stroke="#363636" stroke-width="0.12">6</text>
<line x1="47" y1="276.5" x2="163.9" y2="276.5" stroke="#1c1c1c" stroke-width="1.2"/>
<line x1="47.6" y1="276.3" x2="47.6" y2="279.1" stroke="#1c1c1c" stroke-width="1.0"/>
<text x="47.6" y="289.1" font-size="8.7" text-anchor="middle" fill="#363636" stroke="#363636" stroke-width="0.12">0</text>
<line x1="70.76" y1="276.3" x2="70.76" y2="279.1" stroke="#1c1c1c" stroke-width="1.0"/>
<text x="70.76" y="289.1" font-size="8.7" text-anchor="middle" fill="#363636" stroke="#363636" stroke-width="0.12">2</text>
<line x1="93.92" y1="276.3" x2="93.92" y2="279.1" stroke="#1c1c1c" stroke-width="1.0"/>
<text x="93.92" y="289.1" font-size="8.7" text-anchor="middle" fill="#363636" stroke="#363636" stroke-width="0.12">4</text>
<line x1="117.08" y1="276.3" x2="117.08" y2="279.1" stroke="#1c1c1c" stroke-width="1.0"/>
<text x="117.08" y="289.1" font-size="8.7" text-anchor="middle" fill="#363636" stroke="#363636" stroke-width="0.12">6</text>
<line x1="140.24" y1="276.3" x2="140.24" y2="279.1" stroke="#1c1c1c" stroke-width="1.0"/>
<text x="140.24" y="289.1" font-size="8.7" text-anchor="middle" fill="#363636" stroke="#363636" stroke-width="0.12">8</text>
<line x1="163.4" y1="276.3" x2="163.4" y2="279.1" stroke="#1c1c1c" stroke-width="1.0"/>
<text x="163.4" y="289.1" font-size="8.7" text-anchor="middle" fill="#363636" stroke="#363636" stroke-width="0.12">10</text>
<text x="84.6" y="302.8" font-size="9.0" fill="#363636" stroke="#363636" stroke-width="0.12" textLength="42.6" lengthAdjust="spacingAndGlyphs">FXIIa:C1INH</text>
<text transform="translate(31.5,249.4) rotate(-90)" font-size="9.0" fill="#363636" stroke="#363636" stroke-width="0.12" textLength="26.6" lengthAdjust="spacingAndGlyphs">FIXa:AT</text>
<text x="49.9" y="208.2" font-size="8.0" fill="#bf2f4b" textLength="70.5" lengthAdjust="spacingAndGlyphs"><tspan font-style="italic">r</tspan> = 0.91 [0.85 - 0.94]</text>
<text x="68.4" y="216.8" font-size="8.0" fill="#bf2f4b" textLength="32.6" lengthAdjust="spacingAndGlyphs"><tspan font-style="italic">P</tspan> &lt; .0001</text>
<line x1="50.5" y1="271.4" x2="145" y2="218.1" stroke="#1a1a1a" stroke-width="0.95"/>
<rect x="114.2" y="217.1" width="3.2" height="3.2" fill="#fff" stroke="#2b4a7a" stroke-width="1.0"/>
<rect x="99.9" y="222.4" width="3.2" height="3.2" fill="#fff" stroke="#2b4a7a" stroke-width="1.0"/>
<rect x="105.6" y="229.3" width="3.2" height="3.2" fill="#fff" stroke="#2b4a7a" stroke-width="1.0"/>
<rect x="103.6" y="234.2" width="3.2" height="3.2" fill="#fff" stroke="#2b4a7a" stroke-width="1.0"/>
<rect x="112.7" y="236" width="3.2" height="3.2" fill="#fff" stroke="#2b4a7a" stroke-width="1.0"/>
<rect x="120.9" y="234.5" width="3.2" height="3.2" fill="#fff" stroke="#2b4a7a" stroke-width="1.0"/>
<rect x="120.3" y="238.4" width="3.2" height="3.2" fill="#fff" stroke="#2b4a7a" stroke-width="1.0"/>
<rect x="136.1" y="219.5" width="3.2" height="3.2" fill="#fff" stroke="#2b4a7a" stroke-width="1.0"/>
<rect x="139.8" y="221.1" width="3.2" height="3.2" fill="#fff" stroke="#2b4a7a" stroke-width="1.0"/>
<rect x="143.4" y="225.6" width="3.2" height="3.2" fill="#fff" stroke="#2b4a7a" stroke-width="1.0"/>
<rect x="95.3" y="242.7" width="3.2" height="3.2" fill="#fff" stroke="#2b4a7a" stroke-width="1.0"/>
<rect x="65.7" y="246.9" width="3.2" height="3.2" fill="#fff" stroke="#2b4a7a" stroke-width="1.0"/>
<rect x="69.6" y="246.7" width="3.2" height="3.2" fill="#fff" stroke="#2b4a7a" stroke-width="1.0"/>
<rect x="77.4" y="244.9" width="3.2" height="3.2" fill="#fff" stroke="#2b4a7a" stroke-width="1.0"/>
<rect x="73.2" y="251" width="3.2" height="3.2" fill="#fff" stroke="#2b4a7a" stroke-width="1.0"/>
<rect x="77.6" y="251" width="3.2" height="3.2" fill="#fff" stroke="#2b4a7a" stroke-width="1.0"/>
<rect x="80" y="255.2" width="3.2" height="3.2" fill="#fff" stroke="#2b4a7a" stroke-width="1.0"/>
<rect x="83.8" y="263.5" width="3.2" height="3.2" fill="#fff" stroke="#2b4a7a" stroke-width="1.0"/>
<rect x="67.5" y="257.9" width="3.2" height="3.2" fill="#fff" stroke="#2b4a7a" stroke-width="1.0"/>
<rect x="55.2" y="259.4" width="3.2" height="3.2" fill="#fff" stroke="#2b4a7a" stroke-width="1.0"/>
<rect x="52.6" y="263.2" width="3.2" height="3.2" fill="#fff" stroke="#2b4a7a" stroke-width="1.0"/>
<rect x="56.4" y="263.2" width="3.2" height="3.2" fill="#fff" stroke="#2b4a7a" stroke-width="1.0"/>
<rect x="60.3" y="263.5" width="3.2" height="3.2" fill="#fff" stroke="#2b4a7a" stroke-width="1.0"/>
<rect x="64.1" y="260.8" width="3.2" height="3.2" fill="#fff" stroke="#2b4a7a" stroke-width="1.0"/>
<rect x="65.1" y="262.7" width="3.2" height="3.2" fill="#fff" stroke="#2b4a7a" stroke-width="1.0"/>
<rect x="67" y="262.3" width="3.2" height="3.2" fill="#fff" stroke="#2b4a7a" stroke-width="1.0"/>
<rect x="50.2" y="265.6" width="3.2" height="3.2" fill="#fff" stroke="#2b4a7a" stroke-width="1.0"/>
<rect x="54" y="265.2" width="3.2" height="3.2" fill="#fff" stroke="#2b4a7a" stroke-width="1.0"/>
<rect x="57.9" y="264.7" width="3.2" height="3.2" fill="#fff" stroke="#2b4a7a" stroke-width="1.0"/>
<rect x="63.2" y="265.6" width="3.2" height="3.2" fill="#fff" stroke="#2b4a7a" stroke-width="1.0"/>
<rect x="66.5" y="266.6" width="3.2" height="3.2" fill="#fff" stroke="#2b4a7a" stroke-width="1.0"/>
<rect x="68" y="264.2" width="3.2" height="3.2" fill="#fff" stroke="#2b4a7a" stroke-width="1.0"/>
<rect x="49.2" y="269.5" width="3.2" height="3.2" fill="#fff" stroke="#2b4a7a" stroke-width="1.0"/>
<rect x="51.6" y="270.9" width="3.2" height="3.2" fill="#fff" stroke="#2b4a7a" stroke-width="1.0"/>
<rect x="55" y="270.4" width="3.2" height="3.2" fill="#fff" stroke="#2b4a7a" stroke-width="1.0"/>
<rect x="58.8" y="269" width="3.2" height="3.2" fill="#fff" stroke="#2b4a7a" stroke-width="1.0"/>
<rect x="61.7" y="268" width="3.2" height="3.2" fill="#fff" stroke="#2b4a7a" stroke-width="1.0"/>
<rect x="70.4" y="270" width="3.2" height="3.2" fill="#fff" stroke="#2b4a7a" stroke-width="1.0"/>
<rect x="48.7" y="268.5" width="3.2" height="3.2" fill="#fff" stroke="#2b4a7a" stroke-width="1.0"/>
<rect x="67.5" y="267.1" width="3.2" height="3.2" fill="#fff" stroke="#2b4a7a" stroke-width="1.0"/>
<rect x="60.4" y="270.7" width="3.2" height="3.2" fill="#fff" stroke="#2b4a7a" stroke-width="1.0"/>
<text x="183.3" y="188.7" font-size="12.2" text-anchor="start" fill="#111" font-weight="bold">F</text>
<line x1="217.5" y1="196.2" x2="217.5" y2="276.9" stroke="#1c1c1c" stroke-width="1.2"/>
<line x1="214.6" y1="276.3" x2="217.5" y2="276.3" stroke="#1c1c1c" stroke-width="1.0"/>
<text x="212.1" y="279.2" font-size="8.7" text-anchor="end" fill="#363636" stroke="#363636" stroke-width="0.12">0</text>
<line x1="214.6" y1="250.64" x2="217.5" y2="250.64" stroke="#1c1c1c" stroke-width="1.0"/>
<text x="212.1" y="253.54" font-size="8.7" text-anchor="end" fill="#363636" stroke="#363636" stroke-width="0.12">2</text>
<line x1="214.6" y1="224.98" x2="217.5" y2="224.98" stroke="#1c1c1c" stroke-width="1.0"/>
<text x="212.1" y="227.88" font-size="8.7" text-anchor="end" fill="#363636" stroke="#363636" stroke-width="0.12">4</text>
<line x1="214.6" y1="199.32" x2="217.5" y2="199.32" stroke="#1c1c1c" stroke-width="1.0"/>
<text x="212.1" y="202.22" font-size="8.7" text-anchor="end" fill="#363636" stroke="#363636" stroke-width="0.12">6</text>
<line x1="216.9" y1="276.5" x2="333.88" y2="276.5" stroke="#1c1c1c" stroke-width="1.2"/>
<line x1="217.5" y1="276.3" x2="217.5" y2="279.1" stroke="#1c1c1c" stroke-width="1.0"/>
<text x="217.5" y="289.1" font-size="8.7" text-anchor="middle" fill="#363636" stroke="#363636" stroke-width="0.12">0.0</text>
<line x1="240.68" y1="276.3" x2="240.68" y2="279.1" stroke="#1c1c1c" stroke-width="1.0"/>
<text x="240.68" y="289.1" font-size="8.7" text-anchor="middle" fill="#363636" stroke="#363636" stroke-width="0.12">0.5</text>
<line x1="263.85" y1="276.3" x2="263.85" y2="279.1" stroke="#1c1c1c" stroke-width="1.0"/>
<text x="263.85" y="289.1" font-size="8.7" text-anchor="middle" fill="#363636" stroke="#363636" stroke-width="0.12">1.0</text>
<line x1="287.02" y1="276.3" x2="287.02" y2="279.1" stroke="#1c1c1c" stroke-width="1.0"/>
<text x="287.02" y="289.1" font-size="8.7" text-anchor="middle" fill="#363636" stroke="#363636" stroke-width="0.12">1.5</text>
<line x1="310.2" y1="276.3" x2="310.2" y2="279.1" stroke="#1c1c1c" stroke-width="1.0"/>
<text x="310.2" y="289.1" font-size="8.7" text-anchor="middle" fill="#363636" stroke="#363636" stroke-width="0.12">2.0</text>
<line x1="333.38" y1="276.3" x2="333.38" y2="279.1" stroke="#1c1c1c" stroke-width="1.0"/>
<text x="333.38" y="289.1" font-size="8.7" text-anchor="middle" fill="#363636" stroke="#363636" stroke-width="0.12">2.5</text>
<text x="255.6" y="302.8" font-size="9.0" fill="#363636" stroke="#363636" stroke-width="0.12" textLength="40.2" lengthAdjust="spacingAndGlyphs">FXIa:C1INH</text>
<text transform="translate(201,249.4) rotate(-90)" font-size="9.0" fill="#363636" stroke="#363636" stroke-width="0.12" textLength="26.6" lengthAdjust="spacingAndGlyphs">FIXa:AT</text>
<text x="219.5" y="208.2" font-size="8.0" fill="#bf2f4b" textLength="70.8" lengthAdjust="spacingAndGlyphs"><tspan font-style="italic">r</tspan> = 0.91 [0.85 - 0.95]</text>
<text x="238" y="216.8" font-size="8.0" fill="#bf2f4b" textLength="33.8" lengthAdjust="spacingAndGlyphs"><tspan font-style="italic">P</tspan> &lt; .0001</text>
<line x1="218" y1="276.3" x2="325.8" y2="232.2" stroke="#1a1a1a" stroke-width="0.95"/>
<rect x="320.5" y="216.4" width="3.2" height="3.2" fill="#fff" stroke="#2b4a7a" stroke-width="1.0"/>
<rect x="324.2" y="219.8" width="3.2" height="3.2" fill="#fff" stroke="#2b4a7a" stroke-width="1.0"/>
<rect x="321.9" y="220.7" width="3.2" height="3.2" fill="#fff" stroke="#2b4a7a" stroke-width="1.0"/>
<rect x="323.2" y="223.2" width="3.2" height="3.2" fill="#fff" stroke="#2b4a7a" stroke-width="1.0"/>
<rect x="322.4" y="225.9" width="3.2" height="3.2" fill="#fff" stroke="#2b4a7a" stroke-width="1.0"/>
<rect x="318.1" y="229.6" width="3.2" height="3.2" fill="#fff" stroke="#2b4a7a" stroke-width="1.0"/>
<rect x="322.2" y="236.4" width="3.2" height="3.2" fill="#fff" stroke="#2b4a7a" stroke-width="1.0"/>
<rect x="322.4" y="238.6" width="3.2" height="3.2" fill="#fff" stroke="#2b4a7a" stroke-width="1.0"/>
<rect x="307.6" y="235" width="3.2" height="3.2" fill="#fff" stroke="#2b4a7a" stroke-width="1.0"/>
<rect x="309.8" y="233.9" width="3.2" height="3.2" fill="#fff" stroke="#2b4a7a" stroke-width="1.0"/>
<rect x="302.6" y="243.1" width="3.2" height="3.2" fill="#fff" stroke="#2b4a7a" stroke-width="1.0"/>
<rect x="300.4" y="247.1" width="3.2" height="3.2" fill="#fff" stroke="#2b4a7a" stroke-width="1.0"/>
<rect x="290.5" y="245.8" width="3.2" height="3.2" fill="#fff" stroke="#2b4a7a" stroke-width="1.0"/>
<rect x="280.4" y="244.7" width="3.2" height="3.2" fill="#fff" stroke="#2b4a7a" stroke-width="1.0"/>
<rect x="282.1" y="251.2" width="3.2" height="3.2" fill="#fff" stroke="#2b4a7a" stroke-width="1.0"/>
<rect x="265.3" y="251.5" width="3.2" height="3.2" fill="#fff" stroke="#2b4a7a" stroke-width="1.0"/>
<rect x="276.6" y="260.1" width="3.2" height="3.2" fill="#fff" stroke="#2b4a7a" stroke-width="1.0"/>
<rect x="270.3" y="263.2" width="3.2" height="3.2" fill="#fff" stroke="#2b4a7a" stroke-width="1.0"/>
<rect x="268.2" y="267.3" width="3.2" height="3.2" fill="#fff" stroke="#2b4a7a" stroke-width="1.0"/>
<rect x="256.8" y="255.6" width="3.2" height="3.2" fill="#fff" stroke="#2b4a7a" stroke-width="1.0"/>
<rect x="253.2" y="258.5" width="3.2" height="3.2" fill="#fff" stroke="#2b4a7a" stroke-width="1.0"/>
<rect x="258.8" y="259.9" width="3.2" height="3.2" fill="#fff" stroke="#2b4a7a" stroke-width="1.0"/>
<rect x="262.2" y="262.3" width="3.2" height="3.2" fill="#fff" stroke="#2b4a7a" stroke-width="1.0"/>
<rect x="261.5" y="265.9" width="3.2" height="3.2" fill="#fff" stroke="#2b4a7a" stroke-width="1.0"/>
<rect x="258.8" y="267.9" width="3.2" height="3.2" fill="#fff" stroke="#2b4a7a" stroke-width="1.0"/>
<rect x="256.8" y="270.9" width="3.2" height="3.2" fill="#fff" stroke="#2b4a7a" stroke-width="1.0"/>
<rect x="250.5" y="270.9" width="3.2" height="3.2" fill="#fff" stroke="#2b4a7a" stroke-width="1.0"/>
<rect x="250.7" y="266.6" width="3.2" height="3.2" fill="#fff" stroke="#2b4a7a" stroke-width="1.0"/>
<rect x="250.5" y="263.2" width="3.2" height="3.2" fill="#fff" stroke="#2b4a7a" stroke-width="1.0"/>
<rect x="242" y="260.5" width="3.2" height="3.2" fill="#fff" stroke="#2b4a7a" stroke-width="1.0"/>
<rect x="237" y="263.2" width="3.2" height="3.2" fill="#fff" stroke="#2b4a7a" stroke-width="1.0"/>
<rect x="242.9" y="263.9" width="3.2" height="3.2" fill="#fff" stroke="#2b4a7a" stroke-width="1.0"/>
<rect x="244.3" y="269.3" width="3.2" height="3.2" fill="#fff" stroke="#2b4a7a" stroke-width="1.0"/>
<rect x="230.3" y="263.2" width="3.2" height="3.2" fill="#fff" stroke="#2b4a7a" stroke-width="1.0"/>
<rect x="227.2" y="263.9" width="3.2" height="3.2" fill="#fff" stroke="#2b4a7a" stroke-width="1.0"/>
<rect x="229.5" y="266.6" width="3.2" height="3.2" fill="#fff" stroke="#2b4a7a" stroke-width="1.0"/>
<rect x="232.6" y="269.3" width="3.2" height="3.2" fill="#fff" stroke="#2b4a7a" stroke-width="1.0"/>
<rect x="226.5" y="267.9" width="3.2" height="3.2" fill="#fff" stroke="#2b4a7a" stroke-width="1.0"/>
<rect x="224.1" y="269.5" width="3.2" height="3.2" fill="#fff" stroke="#2b4a7a" stroke-width="1.0"/>
<rect x="220.9" y="270" width="3.2" height="3.2" fill="#fff" stroke="#2b4a7a" stroke-width="1.0"/>
<rect x="217.4" y="270.4" width="3.2" height="3.2" fill="#fff" stroke="#2b4a7a" stroke-width="1.0"/>
<rect x="233.2" y="270" width="3.2" height="3.2" fill="#fff" stroke="#2b4a7a" stroke-width="1.0"/>
<rect x="227.6" y="268.6" width="3.2" height="3.2" fill="#fff" stroke="#2b4a7a" stroke-width="1.0"/>
<rect x="216.9" y="272.9" width="3.2" height="3.2" fill="#fff" stroke="#2b4a7a" stroke-width="1.0"/>
<text x="353.6" y="188.7" font-size="12.2" text-anchor="start" fill="#111" font-weight="bold">G</text>
<line x1="391.2" y1="196.2" x2="391.2" y2="276.9" stroke="#1c1c1c" stroke-width="1.2"/>
<line x1="388.3" y1="276.3" x2="391.2" y2="276.3" stroke="#1c1c1c" stroke-width="1.0"/>
<text x="385.8" y="279.2" font-size="8.7" text-anchor="end" fill="#363636" stroke="#363636" stroke-width="0.12">0</text>
<line x1="388.3" y1="250.64" x2="391.2" y2="250.64" stroke="#1c1c1c" stroke-width="1.0"/>
<text x="385.8" y="253.54" font-size="8.7" text-anchor="end" fill="#363636" stroke="#363636" stroke-width="0.12">2</text>
<line x1="388.3" y1="224.98" x2="391.2" y2="224.98" stroke="#1c1c1c" stroke-width="1.0"/>
<text x="385.8" y="227.88" font-size="8.7" text-anchor="end" fill="#363636" stroke="#363636" stroke-width="0.12">4</text>
<line x1="388.3" y1="199.32" x2="391.2" y2="199.32" stroke="#1c1c1c" stroke-width="1.0"/>
<text x="385.8" y="202.22" font-size="8.7" text-anchor="end" fill="#363636" stroke="#363636" stroke-width="0.12">6</text>
<line x1="390.6" y1="276.5" x2="509.18" y2="276.5" stroke="#1c1c1c" stroke-width="1.2"/>
<line x1="391.2" y1="276.3" x2="391.2" y2="279.1" stroke="#1c1c1c" stroke-width="1.0"/>
<text x="391.2" y="289.1" font-size="8.7" text-anchor="middle" fill="#363636" stroke="#363636" stroke-width="0.12">0</text>
<line x1="430.36" y1="276.3" x2="430.36" y2="279.1" stroke="#1c1c1c" stroke-width="1.0"/>
<text x="430.36" y="289.1" font-size="8.7" text-anchor="middle" fill="#363636" stroke="#363636" stroke-width="0.12">20</text>
<line x1="469.52" y1="276.3" x2="469.52" y2="279.1" stroke="#1c1c1c" stroke-width="1.0"/>
<text x="469.52" y="289.1" font-size="8.7" text-anchor="middle" fill="#363636" stroke="#363636" stroke-width="0.12">40</text>
<line x1="508.68" y1="276.3" x2="508.68" y2="279.1" stroke="#1c1c1c" stroke-width="1.0"/>
<text x="508.68" y="289.1" font-size="8.7" text-anchor="middle" fill="#363636" stroke="#363636" stroke-width="0.12">60</text>
<text x="430.9" y="302.8" font-size="9.0" fill="#363636" stroke="#363636" stroke-width="0.12" textLength="38.6" lengthAdjust="spacingAndGlyphs">PKa:C1INH</text>
<text transform="translate(374,249.4) rotate(-90)" font-size="9.0" fill="#363636" stroke="#363636" stroke-width="0.12" textLength="26.6" lengthAdjust="spacingAndGlyphs">FIXa:AT</text>
<text x="393.3" y="208.2" font-size="8.0" fill="#bf2f4b" textLength="70.8" lengthAdjust="spacingAndGlyphs"><tspan font-style="italic">r</tspan> = 0.64 [0.45 - 0.77]</text>
<text x="411.8" y="216.8" font-size="8.0" fill="#bf2f4b" textLength="32.9" lengthAdjust="spacingAndGlyphs"><tspan font-style="italic">P</tspan> &lt; .0001</text>
<line x1="406" y1="268.6" x2="486.5" y2="217.6" stroke="#1a1a1a" stroke-width="0.95"/>
<rect x="484.9" y="216" width="3.2" height="3.2" fill="#fff" stroke="#2b4a7a" stroke-width="1.0"/>
<rect x="448.2" y="218.5" width="3.2" height="3.2" fill="#fff" stroke="#2b4a7a" stroke-width="1.0"/>
<rect x="447.7" y="221.4" width="3.2" height="3.2" fill="#fff" stroke="#2b4a7a" stroke-width="1.0"/>
<rect x="457.4" y="220.4" width="3.2" height="3.2" fill="#fff" stroke="#2b4a7a" stroke-width="1.0"/>
<rect x="428.3" y="224.8" width="3.2" height="3.2" fill="#fff" stroke="#2b4a7a" stroke-width="1.0"/>
<rect x="435.9" y="229.3" width="3.2" height="3.2" fill="#fff" stroke="#2b4a7a" stroke-width="1.0"/>
<rect x="412.8" y="234" width="3.2" height="3.2" fill="#fff" stroke="#2b4a7a" stroke-width="1.0"/>
<rect x="424.6" y="234.3" width="3.2" height="3.2" fill="#fff" stroke="#2b4a7a" stroke-width="1.0"/>
<rect x="429" y="236.2" width="3.2" height="3.2" fill="#fff" stroke="#2b4a7a" stroke-width="1.0"/>
<rect x="454" y="237.6" width="3.2" height="3.2" fill="#fff" stroke="#2b4a7a" stroke-width="1.0"/>
<rect x="410.9" y="242.1" width="3.2" height="3.2" fill="#fff" stroke="#2b4a7a" stroke-width="1.0"/>
<rect x="418" y="245.5" width="3.2" height="3.2" fill="#fff" stroke="#2b4a7a" stroke-width="1.0"/>
<rect x="420.9" y="244.3" width="3.2" height="3.2" fill="#fff" stroke="#2b4a7a" stroke-width="1.0"/>
<rect x="425" y="246.5" width="3.2" height="3.2" fill="#fff" stroke="#2b4a7a" stroke-width="1.0"/>
<rect x="408.8" y="250.5" width="3.2" height="3.2" fill="#fff" stroke="#2b4a7a" stroke-width="1.0"/>
<rect x="416.5" y="250.5" width="3.2" height="3.2" fill="#fff" stroke="#2b4a7a" stroke-width="1.0"/>
<rect x="432" y="254.9" width="3.2" height="3.2" fill="#fff" stroke="#2b4a7a" stroke-width="1.0"/>
<rect x="410.4" y="259.9" width="3.2" height="3.2" fill="#fff" stroke="#2b4a7a" stroke-width="1.0"/>
<rect x="417.4" y="258.4" width="3.2" height="3.2" fill="#fff" stroke="#2b4a7a" stroke-width="1.0"/>
<rect x="414.9" y="260.9" width="3.2" height="3.2" fill="#fff" stroke="#2b4a7a" stroke-width="1.0"/>
<rect x="407.4" y="263.4" width="3.2" height="3.2" fill="#fff" stroke="#2b4a7a" stroke-width="1.0"/>
<rect x="417.9" y="262.9" width="3.2" height="3.2" fill="#fff" stroke="#2b4a7a" stroke-width="1.0"/>
<rect x="421.4" y="263.4" width="3.2" height="3.2" fill="#fff" stroke="#2b4a7a" stroke-width="1.0"/>
<rect x="425.4" y="263.9" width="3.2" height="3.2" fill="#fff" stroke="#2b4a7a" stroke-width="1.0"/>
<rect x="429.9" y="261.9" width="3.2" height="3.2" fill="#fff" stroke="#2b4a7a" stroke-width="1.0"/>
<rect x="430.9" y="264.9" width="3.2" height="3.2" fill="#fff" stroke="#2b4a7a" stroke-width="1.0"/>
<rect x="437.4" y="265.6" width="3.2" height="3.2" fill="#fff" stroke="#2b4a7a" stroke-width="1.0"/>
<rect x="428.9" y="266.9" width="3.2" height="3.2" fill="#fff" stroke="#2b4a7a" stroke-width="1.0"/>
<rect x="422.4" y="266.9" width="3.2" height="3.2" fill="#fff" stroke="#2b4a7a" stroke-width="1.0"/>
<rect x="425.4" y="267.4" width="3.2" height="3.2" fill="#fff" stroke="#2b4a7a" stroke-width="1.0"/>
<rect x="406.4" y="267.4" width="3.2" height="3.2" fill="#fff" stroke="#2b4a7a" stroke-width="1.0"/>
<rect x="398.4" y="269.4" width="3.2" height="3.2" fill="#fff" stroke="#2b4a7a" stroke-width="1.0"/>
<rect x="400.9" y="268.9" width="3.2" height="3.2" fill="#fff" stroke="#2b4a7a" stroke-width="1.0"/>
<rect x="403.4" y="269.4" width="3.2" height="3.2" fill="#fff" stroke="#2b4a7a" stroke-width="1.0"/>
<rect x="407.4" y="269.9" width="3.2" height="3.2" fill="#fff" stroke="#2b4a7a" stroke-width="1.0"/>
<rect x="409.9" y="270.2" width="3.2" height="3.2" fill="#fff" stroke="#2b4a7a" stroke-width="1.0"/>
<rect x="415.4" y="269.6" width="3.2" height="3.2" fill="#fff" stroke="#2b4a7a" stroke-width="1.0"/>
<rect x="419.2" y="269.4" width="3.2" height="3.2" fill="#fff" stroke="#2b4a7a" stroke-width="1.0"/>
<rect x="423.4" y="270.9" width="3.2" height="3.2" fill="#fff" stroke="#2b4a7a" stroke-width="1.0"/>
<rect x="431.4" y="269.4" width="3.2" height="3.2" fill="#fff" stroke="#2b4a7a" stroke-width="1.0"/>
<rect x="434.4" y="271.2" width="3.2" height="3.2" fill="#fff" stroke="#2b4a7a" stroke-width="1.0"/>
<rect x="412.4" y="261.4" width="3.2" height="3.2" fill="#fff" stroke="#2b4a7a" stroke-width="1.0"/>
<rect x="1" y="1" width="518" height="310" fill="none" stroke="#dcdcdc" stroke-width="1" transform="translate(0.5,0.5) translate(-0.5,-0.5)"/>
<path d="M0,0.5H520M0,311.5H520M0.5,0V312M519.5,0V312" stroke="#5a5a5a" stroke-width="1" fill="none"/>
</svg>
</body></html>
